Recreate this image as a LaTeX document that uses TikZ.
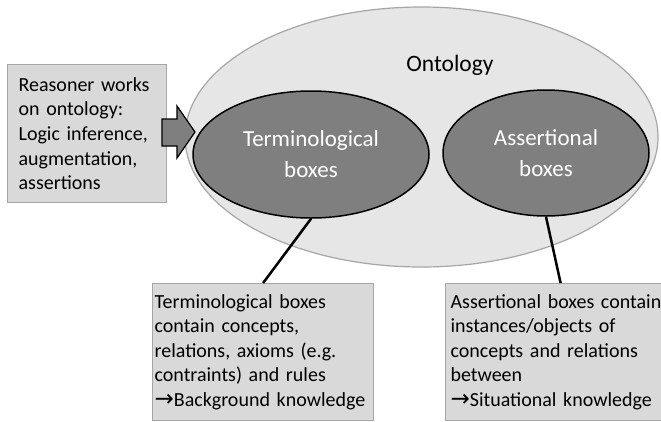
\documentclass[tikz,border=0pt]{standalone}
\usepackage{fontspec}
\setmainfont{Carlito}
\newfontfamily\symfont{DejaVu Sans}
\usetikzlibrary{shapes.geometric}
\definecolor{boxfill}{HTML}{D9D9D9}
\definecolor{boxline}{HTML}{A6A6A6}
\definecolor{ontofill}{HTML}{E6E6E6}
\definecolor{darkfill}{HTML}{7F7F7F}
\newcommand{\rarrowsym}{{\symfont\fontsize{23}{24.6}\selectfont →}}
\begin{document}
\begin{tikzpicture}[x=1pt,y=-1pt,
  infobox/.style={draw=boxline, line width=1.2pt, fill=boxfill, anchor=north west,
    align=left, font=\fontsize{20}{24.6}\selectfont, inner ysep=0pt},
  innerell/.style={ellipse, draw=black, line width=1.5pt, fill=darkfill, text=white,
    inner sep=0pt, align=center, font=\fontsize{23}{31}\selectfont},
  link/.style={line width=2.5pt, draw=black}]
\clip (0,0) rectangle (661,421);
\node[ellipse, draw=boxline, line width=1.2pt, fill=ontofill, minimum width=473pt,
  minimum height=260pt, inner sep=0pt] (onto) at (421.5,137) {};
\node[font=\fontsize{23.5}{28}\selectfont] (ontolabel) at (450,65) {Ontology};
\node[innerell, minimum width=236pt, minimum height=127pt] (te) at (311,154.5)
  {Terminological\\boxes};
\node[innerell, minimum width=206pt, minimum height=126pt] (ae) at (546,153)
  {Assertional\\boxes};
\node[infobox, minimum width=159pt, minimum height=138pt, text width=137pt,
  inner xsep=11pt] (reas) at (7,64)
  {Reasoner works\\on ontology:\\Logic inference,\\augmentation,\\assertions};
\draw[line width=1.2pt, draw=black, fill=darkfill]
  (162,119) -- (177,119) -- (177,106) -- (195,132) -- (177,158) -- (177,146) -- (162,146) -- cycle;
\node[infobox, minimum width=221pt, minimum height=137pt, text width=217pt,
  inner xsep=2pt] (tb) at (152,283)
  {Terminological boxes\\contain concepts,\\relations, axioms (e.g.\\contraints) and rules\\\rarrowsym Background knowledge};
\node[infobox, minimum width=230pt, minimum height=137pt, text width=220pt,
  inner xsep=5pt] (ab) at (445,283)
  {Assertional boxes contain\\instances/objects of\\concepts and relations\\between\\\rarrowsym Situational knowledge};
\draw[link] (te.south) -- (tb.north);
\draw[link] (ae.south) -- (ab.north);
\end{tikzpicture}
\end{document}
